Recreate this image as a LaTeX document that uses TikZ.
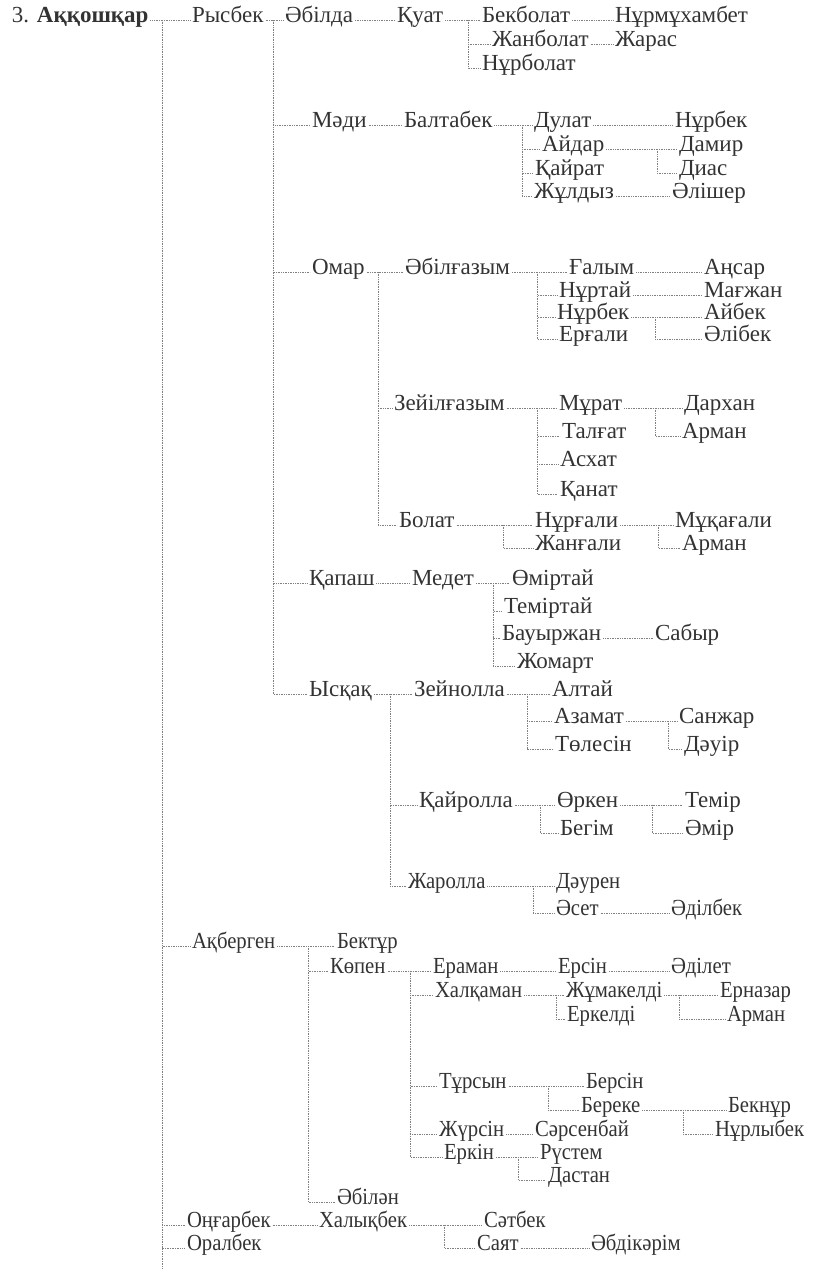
\documentclass[tikz,border=0pt]{standalone}
\usepackage{fontspec}
\setmainfont{Liberation Serif}
\newfontfamily\narrowfont[FakeStretch=0.9]{Liberation Serif}

\begin{document}
\begin{tikzpicture}[x=1pt, y=-1pt,
    nm/.style={anchor=west, inner sep=0pt, outer sep=2pt, text height=1.5ex, text depth=.3ex,
      text=black!80, font=\fontsize{23}{27}\selectfont},
    nmn/.style={nm, font=\fontsize{23}{27}\narrowfont},
    link/.style={draw=black!50, densely dotted, line width=0.7pt}]
    \useasboundingbox (0,0) rectangle (813,1277);

    % Ата
    \node[nm] (akkoshkar) at (10,20) {3. \textbf{Аққошқар}};
    \coordinate (mainbar) at (162,20);
    \coordinate (mainend) at (162,1268);

    % Рысбек тармағы
    \node[nm] (rysbek) at (190,20) {Рысбек};
    \coordinate (rysbekbar) at (273,20);
    \node[nm] (abilda) at (283,20) {Әбілда};
    \node[nm] (kuat) at (395,20) {Қуат};
    \coordinate (kuatbar) at (468,20);
    \node[nm] (bekbolat) at (480,20) {Бекболат};
    \node[nm] (nurmukhambet) at (613,20) {Нұрмұхамбет};
    \node[nm] (zhanbolat) at (490,44) {Жанболат};
    \node[nm] (zharas) at (613,44) {Жарас};
    \node[nm] (nurbolat) at (480,68) {Нұрболат};

    % Мәди
    \node[nm] (madi) at (310,125) {Мәди};
    \node[nm] (baltabek) at (402,125) {Балтабек};
    \coordinate (baltabekbar) at (522,125);
    \node[nm] (dulat) at (532,125) {Дулат};
    \node[nm] (nurbekA) at (673,125) {Нұрбек};
    \node[nm] (aidar) at (540,149) {Айдар};
    \coordinate (aidarbar) at (657,149);
    \node[nm] (damir) at (677,149) {Дамир};
    \node[nm] (kairat) at (533,173) {Қайрат};
    \node[nm] (dias) at (677,173) {Диас};
    \node[nm] (zhuldyz) at (532,196) {Жұлдыз};
    \node[nm] (alisher) at (670,196) {Әлішер};

    % Омар
    \node[nm] (omar) at (310,272) {Омар};
    \coordinate (omarbar) at (378,272);
    \node[nm] (abilgazym) at (403,272) {Әбілғазым};
    \coordinate (abilgazymbar) at (537,272);
    \node[nm] (galym) at (567,272) {Ғалым};
    \node[nm] (ansar) at (702,272) {Аңсар};
    \node[nm] (nurtai) at (557,295) {Нұртай};
    \node[nm] (magzhan) at (702,295) {Мағжан};
    \node[nm] (nurbekB) at (555,317) {Нұрбек};
    \coordinate (nurbekbar) at (655,317);
    \node[nm] (aibek) at (702,317) {Айбек};
    \node[nm] (ergali) at (557,339) {Ерғали};
    \node[nm] (alibek) at (702,339) {Әлібек};

    \node[nm] (zeilgazym) at (392,408) {Зейілғазым};
    \coordinate (zeilbar) at (537,408);
    \node[nm] (murat) at (557,408) {Мұрат};
    \coordinate (muratbar) at (655,408);
    \node[nm] (darkhan) at (682,408) {Дархан};
    \node[nm] (talgat) at (560,436) {Талғат};
    \node[nm] (armanA) at (680,436) {Арман};
    \node[nm] (askhat) at (558,464) {Асхат};
    \node[nm] (kanat) at (558,494) {Қанат};

    \node[nm] (bolat) at (397,525) {Болат};
    \coordinate (bolatbar) at (503,525);
    \node[nm] (nurgali) at (533,525) {Нұрғали};
    \coordinate (nurgalibar) at (658,525);
    \node[nm] (mukagali) at (673,525) {Мұқағали};
    \node[nm] (zhangali) at (533,548) {Жанғали};
    \node[nm] (armanB) at (680,548) {Арман};

    % Қапаш
    \node[nm] (kapash) at (307,583) {Қапаш};
    \node[nm] (medet) at (410,583) {Медет};
    \coordinate (medetbar) at (493,583);
    \node[nm] (omirtai) at (510,583) {Өміртай};
    \node[nm] (temirtai) at (502,611) {Теміртай};
    \node[nm] (bauyrzhan) at (500,638) {Бауыржан};
    \node[nm] (sabyr) at (653,638) {Сабыр};
    \node[nm] (zhomart) at (515,666) {Жомарт};

    % Ысқақ
    \node[nm] (yskak) at (307,694) {Ысқақ};
    \coordinate (yskakbar) at (390,694);
    \node[nm] (zeinolla) at (412,694) {Зейнолла};
    \coordinate (zeinollabar) at (527,694);
    \node[nm] (altai) at (550,694) {Алтай};
    \node[nm] (azamat) at (552,721) {Азамат};
    \coordinate (azamatbar) at (668,721);
    \node[nm] (sanzhar) at (677,721) {Санжар};
    \node[nm] (tolesin) at (553,749) {Төлесін};
    \node[nm] (dauir) at (682,749) {Дәуір};

    \node[nm] (kairolla) at (417,805) {Қайролла};
    \coordinate (kairollabar) at (540,805);
    \node[nm] (orken) at (555,805) {Өркен};
    \coordinate (orkenbar) at (652,805);
    \node[nm] (temir) at (683,805) {Темір};
    \node[nm] (begim) at (558,833) {Бегім};
    \node[nm] (amir) at (683,833) {Әмір};

    \node[nmn] (zharolla) at (406,886) {Жаролла};
    \coordinate (zharollabar) at (533,886);
    \node[nmn] (dauren) at (554,886) {Дәурен};
    \node[nmn] (aset) at (554,913) {Әсет};
    \node[nmn] (adilbek) at (669,913) {Әділбек};

    % Ақберген тармағы
    \node[nmn] (akbergen) at (190,946) {Ақберген};
    \coordinate (akbergenbar) at (308,946);
    \node[nmn] (bektur) at (335,946) {Бектұр};
    \node[nmn] (kopen) at (328,971) {Көпен};
    \coordinate (kopenbar) at (410,971);
    \node[nmn] (eraman) at (431,971) {Ераман};
    \node[nmn] (ersin) at (556,971) {Ерсін};
    \node[nmn] (adilet) at (669,971) {Әділет};
    \node[nmn] (khalkaman) at (433,995) {Халқаман};
    \coordinate (khalkamanbar) at (556,995);
    \node[nmn] (zhumakeldi) at (564,995) {Жұмакелді};
    \coordinate (zhumakeldibar) at (679,995);
    \node[nmn] (ernazar) at (718,995) {Ерназар};
    \node[nmn] (erkeldi) at (565,1019) {Еркелді};
    \node[nmn] (armanC) at (725,1019) {Арман};

    \node[nmn] (tursyn) at (437,1086) {Тұрсын};
    \coordinate (tursynbar) at (548,1086);
    \node[nmn] (bersin) at (584,1086) {Берсін};
    \node[nmn] (bereke) at (579,1110) {Береке};
    \coordinate (berekebar) at (683,1110);
    \node[nmn] (beknur) at (726,1110) {Бекнұр};
    \node[nmn] (zhursin) at (437,1134) {Жүрсін};
    \node[nmn] (sarsenbai) at (533,1134) {Сәрсенбай};
    \node[nmn] (nurlybek) at (713,1134) {Нұрлыбек};
    \node[nmn] (erkin) at (442,1157) {Еркін};
    \coordinate (erkinbar) at (518,1157);
    \node[nmn] (rustem) at (538,1157) {Рүстем};
    \node[nmn] (dastan) at (546,1180) {Дастан};
    \node[nmn] (abilan) at (335,1202) {Әбілән};

    % Оңғарбек, Оралбек
    \node[nmn] (ongarbek) at (185,1225) {Оңғарбек};
    \node[nmn] (khalykbek) at (317,1225) {Халықбек};
    \coordinate (khalykbekbar) at (444,1225);
    \node[nmn] (satbek) at (482,1225) {Сәтбек};
    \node[nmn] (sayat) at (475,1248) {Саят};
    \node[nmn] (abdikarim) at (589,1248) {Әбдікәрім};
    \node[nmn] (oralbek) at (185,1248) {Оралбек};

    % Байланыстар
    \draw[link] (akkoshkar) -- (rysbek);
    \draw[link] (mainbar) -- (mainend);
    \foreach \c in {akbergen, ongarbek, oralbek}
        \draw[link] (mainbar) |- (\c);

    \draw[link] (rysbek) -- (abilda);
    \foreach \c in {madi, omar, kapash, yskak}
        \draw[link] (rysbekbar) |- (\c);

    \draw[link] (abilda) -- (kuat);
    \draw[link] (kuat) -- (bekbolat);
    \foreach \c in {zhanbolat, nurbolat}
        \draw[link] (kuatbar) |- (\c);
    \draw[link] (bekbolat) -- (nurmukhambet);
    \draw[link] (zhanbolat) -- (zharas);

    \draw[link] (madi) -- (baltabek);
    \draw[link] (baltabek) -- (dulat);
    \foreach \c in {aidar, kairat, zhuldyz}
        \draw[link] (baltabekbar) |- (\c);
    \draw[link] (dulat) -- (nurbekA);
    \draw[link] (aidar) -- (damir);
    \draw[link] (aidarbar) |- (dias);
    \draw[link] (zhuldyz) -- (alisher);

    \draw[link] (omar) -- (abilgazym);
    \foreach \c in {zeilgazym, bolat}
        \draw[link] (omarbar) |- (\c);
    \draw[link] (abilgazym) -- (galym);
    \foreach \c in {nurtai, nurbekB, ergali}
        \draw[link] (abilgazymbar) |- (\c);
    \draw[link] (galym) -- (ansar);
    \draw[link] (nurtai) -- (magzhan);
    \draw[link] (nurbekB) -- (aibek);
    \draw[link] (nurbekbar) |- (alibek);

    \draw[link] (zeilgazym) -- (murat);
    \foreach \c in {talgat, askhat, kanat}
        \draw[link] (zeilbar) |- (\c);
    \draw[link] (murat) -- (darkhan);
    \draw[link] (muratbar) |- (armanA);

    \draw[link] (bolat) -- (nurgali);
    \draw[link] (bolatbar) |- (zhangali);
    \draw[link] (nurgali) -- (mukagali);
    \draw[link] (nurgalibar) |- (armanB);

    \draw[link] (kapash) -- (medet);
    \draw[link] (medet) -- (omirtai);
    \foreach \c in {temirtai, bauyrzhan, zhomart}
        \draw[link] (medetbar) |- (\c);
    \draw[link] (bauyrzhan) -- (sabyr);

    \draw[link] (yskak) -- (zeinolla);
    \foreach \c in {kairolla, zharolla}
        \draw[link] (yskakbar) |- (\c);
    \draw[link] (zeinolla) -- (altai);
    \foreach \c in {azamat, tolesin}
        \draw[link] (zeinollabar) |- (\c);
    \draw[link] (azamat) -- (sanzhar);
    \draw[link] (azamatbar) |- (dauir);
    \draw[link] (kairolla) -- (orken);
    \draw[link] (kairollabar) |- (begim);
    \draw[link] (orken) -- (temir);
    \draw[link] (orkenbar) |- (amir);
    \draw[link] (zharolla) -- (dauren);
    \draw[link] (zharollabar) |- (aset);
    \draw[link] (aset) -- (adilbek);

    \draw[link] (akbergen) -- (bektur);
    \foreach \c in {kopen, abilan}
        \draw[link] (akbergenbar) |- (\c);
    \draw[link] (kopen) -- (eraman);
    \foreach \c in {khalkaman, tursyn, zhursin, erkin}
        \draw[link] (kopenbar) |- (\c);
    \draw[link] (eraman) -- (ersin);
    \draw[link] (ersin) -- (adilet);
    \draw[link] (khalkaman) -- (zhumakeldi);
    \draw[link] (khalkamanbar) |- (erkeldi);
    \draw[link] (zhumakeldi) -- (ernazar);
    \draw[link] (zhumakeldibar) |- (armanC);
    \draw[link] (tursyn) -- (bersin);
    \draw[link] (tursynbar) |- (bereke);
    \draw[link] (bereke) -- (beknur);
    \draw[link] (berekebar) |- (nurlybek);
    \draw[link] (zhursin) -- (sarsenbai);
    \draw[link] (erkin) -- (rustem);
    \draw[link] (erkinbar) |- (dastan);

    \draw[link] (ongarbek) -- (khalykbek);
    \draw[link] (khalykbek) -- (satbek);
    \draw[link] (khalykbekbar) |- (sayat);
    \draw[link] (sayat) -- (abdikarim);
\end{tikzpicture}
\end{document}
